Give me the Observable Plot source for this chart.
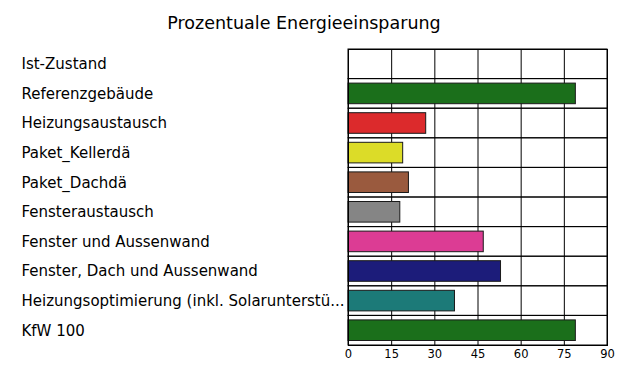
<!DOCTYPE html>
<html>
<head>
<meta charset="utf-8">
<script src="https://cdn.jsdelivr.net/npm/d3@7"></script>
<script src="https://cdn.jsdelivr.net/npm/@observablehq/plot@0.6"></script>
<style>
  body { margin: 0; background: #fff; }
  #wrap { width: 630px; }
  #title { box-sizing: border-box; width: 630px; padding-right: 22px; height: 40px; text-align: center;
           font-family: "DejaVu Sans", sans-serif; font-size: 17.5px; line-height: 20px; padding-top: 13px; color: #000; }
  svg { display: block; }
</style>
</head>
<body>
<div id="wrap">
  <div id="title">Prozentuale Energieeinsparung</div>
  <div id="chart"></div>
</div>
<script>
const categories = [
  "Ist-Zustand",
  "Referenzgebäude",
  "Heizungsaustausch",
  "Paket_Kellerdä",
  "Paket_Dachdä",
  "Fensteraustausch",
  "Fenster und Aussenwand",
  "Fenster, Dach und Aussenwand",
  "Heizungsoptimierung (inkl. Solarunterstü...",
  "KfW 100"
];
const values = [0, 79, 27, 19, 21, 18, 47, 53, 37, 79];
const colors = ["#ffffff", "#1b6f1b", "#dc2a2c", "#dcdc28", "#9a5a3e", "#858585", "#dc3c94", "#1c1c7a", "#1c7a78", "#1b6f1b"];
const xTicks = [0, 15, 30, 45, 60, 75, 90];

const data = categories.map((c, i) => ({category: c, value: values[i], color: colors[i]}));

const chart = Plot.plot({
  width: 630,
  height: 331,
  marginTop: 9,
  marginBottom: 26,
  marginLeft: 348,
  marginRight: 23,
  style: {fontFamily: "DejaVu Sans, sans-serif", color: "#000", background: "#fff"},
  x: {domain: [0, 90], ticks: xTicks},
  y: {domain: categories, padding: 0, round: false},
  marks: [
    Plot.barX(data, {y: "category", x1: 0, x2: 90, fill: "none", stroke: "#000", strokeWidth: 1}),
    Plot.gridX(xTicks.slice(1, -1), {stroke: "#000", strokeOpacity: 1, strokeWidth: 1}),
    Plot.barX(data.filter(d => d.value > 0), {y: "category", x: "value", fill: "color", stroke: "#1a1a1a", strokeWidth: 1, insetTop: 4.5, insetBottom: 4.5}),
    Plot.frame({stroke: "#000", strokeWidth: 1}),
    Plot.axisX(xTicks, {tickSize: 0, tickPadding: 4, fontSize: 11.5, label: null}),
    Plot.axisY({tickSize: 0, tickPadding: 3, textAnchor: "start", dx: -324, dy: 0, fontSize: 15, label: null})
  ]
});
document.getElementById("chart").appendChild(chart);
</script>
</body>
</html>
